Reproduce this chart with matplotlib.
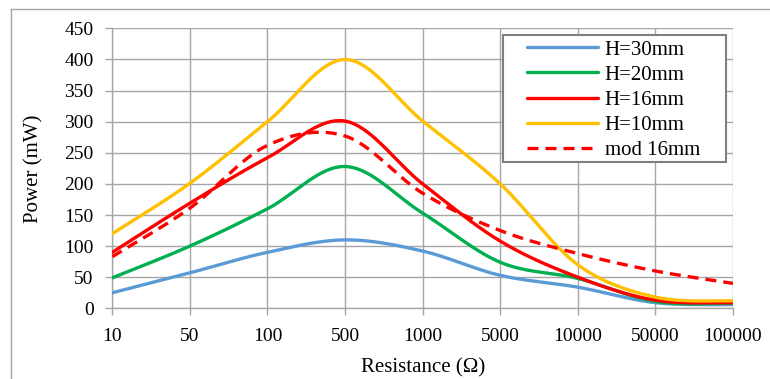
#!/usr/bin/env python3
"""Power vs. load resistance for several magnet heights (Excel-style smoothed lines)."""

import matplotlib

matplotlib.use("Agg")

import matplotlib.pyplot as plt
import numpy as np
from matplotlib.lines import Line2D
from matplotlib.patches import Rectangle

RESISTANCE_LABELS = ["10", "50", "100", "500", "1000", "5000", "10000", "50000", "100000"]

H30_POWER = [25, 57, 90, 110, 92, 53, 34, 9, 6]
H20_POWER = [49, 100, 160, 228, 153, 74, 48, 11, 8]
H16_POWER = [90, 169, 242, 301, 200, 108, 50, 13, 9]
H10_POWER = [120, 201, 300, 400, 301, 200, 70, 18, 12]
MOD16_POWER = [83, 161, 262, 277, 185, 125, 88, 60, 40]

SERIES_LABELS = ["H=30mm", "H=20mm", "H=16mm", "H=10mm", "mod 16mm"]
SERIES_COLORS = ["#5B9BD5", "#00B050", "#FF0000", "#FFC000", "#FF0000"]

GRID_COLOR = "#A6A6A6"
FONT = "Liberation Serif"


def excel_smooth(x, y, steps=40):
    """Bezier smoothing like Excel's 'smoothed line' option."""
    x = np.asarray(x, dtype=float)
    y = np.asarray(y, dtype=float)
    pts = np.column_stack([x, y])
    n = len(pts)
    out = []
    t = np.linspace(0, 1, steps)[:, None]
    for i in range(n - 1):
        p0 = pts[max(i - 1, 0)]
        p1 = pts[i]
        p2 = pts[i + 1]
        p3 = pts[min(i + 2, n - 1)]
        c1 = p1 + (p2 - p0) / 6
        c2 = p2 - (p3 - p1) / 6
        seg = ((1 - t) ** 3) * p1 + 3 * ((1 - t) ** 2) * t * c1 + 3 * (1 - t) * t**2 * c2 + t**3 * p2
        out.append(seg if i == 0 else seg[1:])
    res = np.vstack(out)
    return res[:, 0], res[:, 1]


def main() -> None:
    plt.rcParams["font.family"] = [FONT, "DejaVu Serif"]

    fig = plt.figure(figsize=(7.7, 3.79), dpi=100)
    ax = fig.add_axes([112.3 / 770, 1 - 308.3 / 379, (733 - 112.3) / 770, (308.3 - 28.4) / 379])

    xpos = np.arange(len(RESISTANCE_LABELS))
    all_series = [H30_POWER, H20_POWER, H16_POWER, H10_POWER, MOD16_POWER]

    handles = []
    for values, label, color in zip(all_series, SERIES_LABELS, SERIES_COLORS):
        sx, sy = excel_smooth(xpos, values)
        if label.startswith("mod"):
            (line,) = ax.plot(sx, sy, color=color, linewidth=2.4, label=label,
                              dashes=(3.3, 2.1), solid_capstyle="round", zorder=3)
        else:
            (line,) = ax.plot(sx, sy, color=color, linewidth=2.4, label=label,
                              solid_capstyle="round", zorder=3)
        handles.append(line)

    ax.set_xlim(0, len(RESISTANCE_LABELS) - 1)
    ax.set_ylim(0, 450)
    ax.set_xticks(xpos)
    ax.set_xticklabels(RESISTANCE_LABELS)
    ax.set_yticks(np.arange(0, 451, 50))

    ax.grid(True, color=GRID_COLOR, linewidth=1.0)
    ax.set_axisbelow(True)
    for side in ["top", "right", "left", "bottom"]:
        ax.spines[side].set_color(GRID_COLOR)
        ax.spines[side].set_linewidth(1.0)
    ax.spines["top"].set_visible(False)
    ax.spines["right"].set_visible(False)

    ax.tick_params(axis="both", direction="out", length=5, width=1.0, color=GRID_COLOR,
                   labelsize=14, labelcolor="black")
    ax.tick_params(axis="x", pad=9)
    ax.tick_params(axis="y", pad=8.5)

    ax.set_xlabel("Resistance (\u03a9)", fontsize=15, labelpad=9.5)
    ax.set_ylabel("Power (mW)", fontsize=15, labelpad=15)

    # legend with Excel-like frame
    leg = fig.legend(
        handles=handles,
        loc="upper left",
        bbox_to_anchor=(527 / 770, 1 - 40 / 379),
        bbox_transform=fig.transFigure,
        frameon=False,
        fontsize=15,
        handlelength=3.4,
        handletextpad=0.33,
        labelspacing=0.27,
        borderpad=0,
        borderaxespad=0,
    )
    leg.set_zorder(5)
    fig.add_artist(Rectangle((503 / 770, 1 - 162 / 379), 223 / 770, 127 / 379,
                             transform=fig.transFigure, facecolor="white",
                             edgecolor="#7F7F7F", linewidth=1.5, zorder=4))

    # outer chart border (cropped)
    fig.add_artist(Line2D([11 / 770, 1], [1 - 9 / 379, 1 - 9 / 379], color=GRID_COLOR, linewidth=1.0))
    fig.add_artist(Line2D([11 / 770, 11 / 770], [0, 1 - 9 / 379], color=GRID_COLOR, linewidth=1.0))

    fig.savefig("out.png", dpi=100)
    plt.close(fig)


if __name__ == "__main__":
    main()
